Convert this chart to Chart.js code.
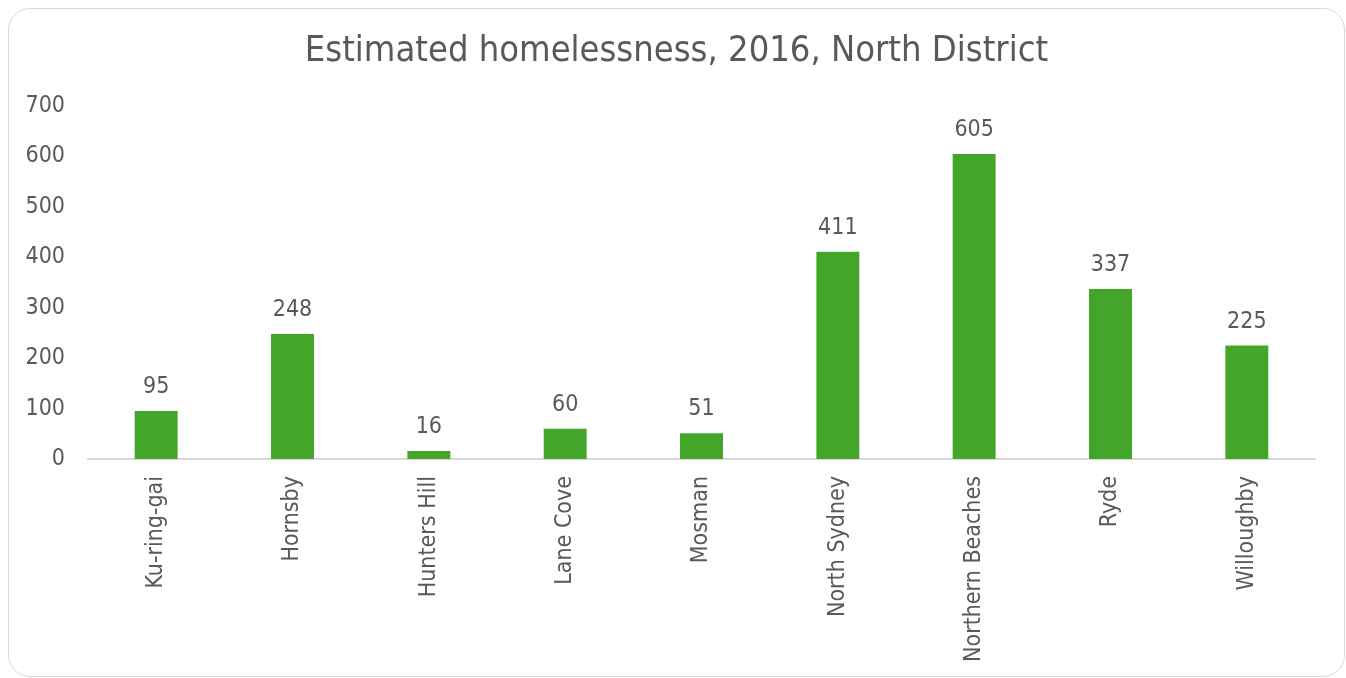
<!DOCTYPE html>
<html>
<head>
<meta charset="utf-8">
<script src="https://cdn.jsdelivr.net/npm/chart.js@4/dist/chart.umd.min.js"></script>
<style>
  html, body { margin: 0; padding: 0; background: #ffffff; }
  #wrap { position: relative; width: 1346px; height: 678px; overflow: hidden; }
  #frame {
    position: absolute; left: 8px; top: 8px; width: 1337px; height: 669px;
    border: 1.5px solid #d9d9d9; border-radius: 22px; box-sizing: border-box;
  }
  canvas { position: absolute; left: 0; top: 0; }
</style>
</head>
<body>
<div id="wrap">
  <div id="frame"></div>
  <canvas id="chart" width="1346" height="678"></canvas>
</div>
<script>
const chartTitle = 'Estimated homelessness, 2016, North District';
const councils = ['Ku-ring-gai', 'Hornsby', 'Hunters Hill', 'Lane Cove', 'Mosman', 'North Sydney', 'Northern Beaches', 'Ryde', 'Willoughby'];
const homelessCounts = [95, 248, 16, 60, 51, 411, 605, 337, 225];
const yTicks = [0, 100, 200, 300, 400, 500, 600, 700];

const FONT = '"DejaVu Sans Condensed", "DejaVu Sans", sans-serif';
const TEXT = '#595959';

// Title centred over the whole card, independent of the axis layout
const cardTitle = {
  id: 'cardTitle',
  afterDraw(chart) {
    const { ctx } = chart;
    ctx.save();
    ctx.font = '36px ' + FONT;
    ctx.fillStyle = TEXT;
    ctx.textAlign = 'center';
    ctx.textBaseline = 'middle';
    ctx.fillText(chartTitle, 676.5, 52);
    ctx.restore();
  }
};

// Writes each bar's value above it
const valueLabels = {
  id: 'valueLabels',
  afterDatasetsDraw(chart) {
    const { ctx } = chart;
    const meta = chart.getDatasetMeta(0);
    ctx.save();
    ctx.font = '23px ' + FONT;
    ctx.fillStyle = TEXT;
    ctx.textAlign = 'center';
    ctx.textBaseline = 'middle';
    meta.data.forEach((bar, i) => {
      ctx.fillText(String(homelessCounts[i]), bar.x, bar.y - 24);
    });
    ctx.restore();
  }
};

new Chart(document.getElementById('chart'), {
  type: 'bar',
  data: {
    labels: councils,
    datasets: [{
      data: homelessCounts,
      backgroundColor: '#43a62b',
      borderWidth: 0,
      categoryPercentage: 1,
      barPercentage: 0.315
    }]
  },
  options: {
    responsive: false,
    animation: false,
    layout: { padding: { top: 106, left: 0, right: 31, bottom: 0 } },
    plugins: {
      legend: { display: false },
      tooltip: { enabled: false },
      title: { display: false }
    },
    scales: {
      x: {
        grid: { display: false, drawTicks: false },
        border: { display: true, color: '#d9d9d9', width: 2 },
        ticks: {
          color: TEXT,
          font: { family: FONT, size: 23 },
          maxRotation: 90,
          minRotation: 90,
          padding: 17,
          autoSkip: false
        },
        afterFit(scale) { scale.height = 219; }
      },
      y: {
        min: 0,
        max: 700,
        afterBuildTicks(scale) { scale.ticks = yTicks.map(v => ({ value: v })); },
        grid: { display: false, drawTicks: false },
        border: { display: false },
        ticks: {
          color: TEXT,
          font: { family: FONT, size: 23 },
          padding: 23
        },
        afterFit(scale) { scale.width = 88; }
      }
    }
  },
  plugins: [valueLabels, cardTitle]
});
</script>
</body>
</html>
